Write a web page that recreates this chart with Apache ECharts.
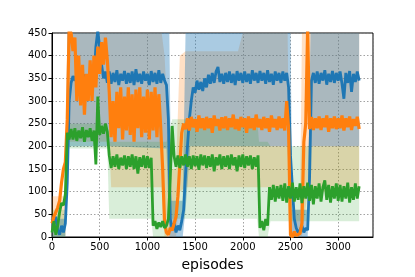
<!DOCTYPE html>
<html>
<head>
<meta charset="utf-8">
<script src="https://cdn.jsdelivr.net/npm/echarts@6/dist/echarts.min.js"></script>
<style>
html,body{margin:0;padding:0;background:#fff;}
#chart{width:415px;height:277px;}
</style>
</head>
<body>
<div id="chart"></div>
<script>
// sampled every 20 episodes, from 0 to 3220
const STEP = 20;
const blueMean = [
  40, 30, 45, 15, 5, 25, 10, 30, 120, 300,
  340, 355, 345, 360, 340, 352, 345, 358, 342, 355,
  348, 360, 350, 420, 455, 455, 380, 350, 365, 340,
  365, 338, 362, 342, 368, 335, 360, 345, 366, 338,
  362, 340, 365, 335, 370, 342, 360, 338, 365, 345,
  360, 335, 366, 342, 362, 338, 368, 340, 360, 345,
  335, 260, 40, 15, 30, 10, 25, 15, 35, 60,
  140, 200, 260, 300, 330, 318, 345, 325, 342, 322,
  350, 330, 358, 338, 362, 340, 365, 375, 342, 360,
  338, 362, 342, 365, 340, 360, 335, 366, 345, 362,
  340, 365, 342, 360, 338, 368, 345, 362, 340, 366,
  345, 362, 338, 368, 342, 360, 336, 365, 345, 362,
  340, 365, 345, 362, 330, 180, 110, 40, 20, 10,
  15, 25, 10, 20, 15, 130, 345, 362, 340, 365,
  338, 362, 345, 368, 336, 360, 342, 366, 340, 362,
  345, 365, 338, 305, 362, 340, 366, 320, 360, 342,
  365, 345
];
const orangeMean = [
  30, 45, 55, 65, 80, 120, 150, 165, 260, 460,
  450, 410, 440, 300, 400, 290, 380, 270, 360, 300,
  390, 300, 400, 330, 420, 360, 430, 380, 440, 390,
  320, 220, 300, 210, 320, 240, 330, 215, 310, 235,
  330, 225, 315, 210, 325, 240, 330, 220, 310, 230,
  325, 215, 320, 235, 330, 220, 315, 240, 150, 30,
  10, 5, 20, 15, 30, 45, 90, 160, 230, 250,
  238, 262, 235, 265, 242, 260, 232, 268, 240, 262,
  236, 265, 240, 262, 230, 268, 245, 260, 235, 264,
  240, 266, 236, 262, 242, 270, 238, 260, 235, 265,
  242, 262, 230, 266, 240, 262, 236, 270, 242, 260,
  236, 265, 240, 262, 232, 268, 242, 260, 236, 266,
  240, 262, 235, 300, 240, 5, 0, 12, 3, 0,
  8, 30, 210, 250, 460, 238, 265, 236, 262, 240,
  266, 236, 262, 242, 268, 232, 262, 240, 266, 238,
  262, 240, 268, 235, 262, 242, 266, 236, 260, 245,
  265, 238
];
const greenMean = [
  10, 35, 5, 25, 55, 75, 70, 95, 230, 215,
  238, 215, 240, 212, 235, 218, 242, 210, 236, 220,
  240, 212, 235, 160, 310, 225, 245, 228, 250, 232,
  180, 152, 178, 155, 182, 150, 175, 158, 180, 150,
  178, 155, 182, 150, 178, 140, 176, 155, 180, 152,
  178, 152, 175, 25, 35, 18, 32, 22, 35, 20,
  25, 40, 130, 245, 178, 155, 180, 152, 178, 158,
  182, 155, 178, 150, 180, 156, 178, 148, 182, 158,
  180, 152, 178, 155, 182, 145, 176, 158, 182, 150,
  178, 155, 180, 150, 182, 158, 176, 145, 180, 155,
  182, 152, 178, 158, 180, 150, 176, 155, 180, 20,
  35, 15, 40, 25, 110, 82, 115, 78, 112, 85,
  115, 80, 118, 76, 112, 85, 120, 78, 110, 82,
  118, 75, 112, 85, 120, 80, 115, 72, 112, 85,
  118, 78, 110, 125, 82, 115, 76, 112, 85, 118,
  80, 115, 78, 112, 85, 120, 76, 110, 82, 118,
  85, 112
];

// shaded spread bands: breakpoints (episode, lower, upper)
const blueBandX  = [0, 140, 160, 600, 1200, 1230, 1250, 1370, 1400, 1450, 2470, 2500, 2520, 2680, 2710, 3220];
const blueBandLo = [0, 0, 200, 200, 195, 0, 0, 0, 60, 200, 200, 0, 0, 0, 200, 200];
const blueBandHi = [40, 40, 450, 450, 450, 450, 80, 80, 450, 450, 450, 450, 60, 60, 450, 450];

const orangeBandX  = [0, 140, 160, 600, 620, 1150, 1180, 1240, 1300, 1340, 1400, 1950, 2000, 2470, 2490, 2600, 2620, 2680, 3220];
const orangeBandLo = [0, 0, 210, 210, 110, 110, 0, 0, 0, 100, 110, 110, 110, 110, 0, 0, 0, 100, 100];
const orangeBandHi = [90, 90, 450, 450, 450, 450, 400, 150, 150, 400, 410, 410, 450, 450, 60, 60, 450, 450, 450];

const greenBandX  = [0, 140, 160, 580, 600, 1040, 1060, 1200, 1260, 2150, 2170, 2260, 2290, 3220];
const greenBandLo = [0, 0, 195, 195, 40, 40, 0, 0, 40, 40, 0, 0, 35, 35];
const greenBandHi = [60, 60, 250, 250, 210, 210, 210, 210, 260, 260, 210, 210, 200, 200];

const xTicks = [0, 500, 1000, 1500, 2000, 2500, 3000];
const yTicks = [0, 50, 100, 150, 200, 250, 300, 350, 400, 450];

function pairs(vals) {
  return vals.map((v, i) => [i * STEP, v]);
}

function bandSeries(xs, lo, hi, fill) {
  return {
    type: 'custom',
    silent: true,
    clip: true,
    z: 1,
    data: [[0, 0]],
    renderItem: function (params, api) {
      const pts = [];
      for (let i = 0; i < xs.length; i++) pts.push(api.coord([xs[i], hi[i]]));
      for (let i = xs.length - 1; i >= 0; i--) pts.push(api.coord([xs[i], lo[i]]));
      return { type: 'polygon', shape: { points: pts }, style: { fill: fill } };
    }
  };
}

function lineSeries(vals, color, z, width) {
  return {
    type: 'line',
    data: pairs(vals),
    showSymbol: false,
    symbol: 'none',
    clip: true,
    z: z,
    lineStyle: { color: color, width: width },
    itemStyle: { color: color },
    silent: true
  };
}

const chart = echarts.init(document.getElementById('chart'), null, { renderer: 'canvas' });
const font = 'DejaVu Sans';
chart.setOption({
  animation: false,
  backgroundColor: '#ffffff',
  grid: {
    left: 52, top: 33, width: 321, height: 213,
    show: true, borderColor: '#000', borderWidth: 1, backgroundColor: 'transparent'
  },
  xAxis: {
    type: 'value', min: 0, max: 3365, interval: 500,
    name: 'episodes', nameLocation: 'middle', nameGap: 21,
    nameTextStyle: { fontFamily: font, fontSize: 14, color: '#000' },
    axisLine: { show: true, lineStyle: { color: '#000', width: 1 } },
    axisTick: { show: true, length: 3.5, lineStyle: { color: '#000' } },
    axisLabel: {
      fontFamily: font, fontSize: 10, color: '#000', margin: 5,
      showMaxLabel: false,
      formatter: v => (xTicks.indexOf(v) >= 0 ? String(v) : '')
    },
    splitLine: { show: true, lineStyle: { color: '#8a8a8a', type: [1.5, 2], width: 0.8 } }
  },
  yAxis: {
    type: 'value', min: 0, max: 450, interval: 50,
    axisLine: { show: true, lineStyle: { color: '#000', width: 1 } },
    axisTick: { show: true, length: 3.5, lineStyle: { color: '#000' } },
    axisLabel: {
      fontFamily: font, fontSize: 10, color: '#000', margin: 5,
      formatter: v => (yTicks.indexOf(v) >= 0 ? String(v) : '')
    },
    splitLine: { show: true, lineStyle: { color: '#8a8a8a', type: [1.5, 2], width: 0.8 } }
  },
  series: [
    bandSeries(orangeBandX, orangeBandLo, orangeBandHi, 'rgba(255,127,14,0.24)'),
    bandSeries(blueBandX, blueBandLo, blueBandHi, 'rgba(31,119,180,0.38)'),
    bandSeries(greenBandX, greenBandLo, greenBandHi, 'rgba(44,160,44,0.18)'),
    lineSeries(blueMean, '#1f77b4', 3, 2.8),
    lineSeries(orangeMean, '#ff7f0e', 4, 3.2),
    lineSeries(greenMean, '#2ca02c', 5, 2.8)
  ]
});
</script>
</body>
</html>
